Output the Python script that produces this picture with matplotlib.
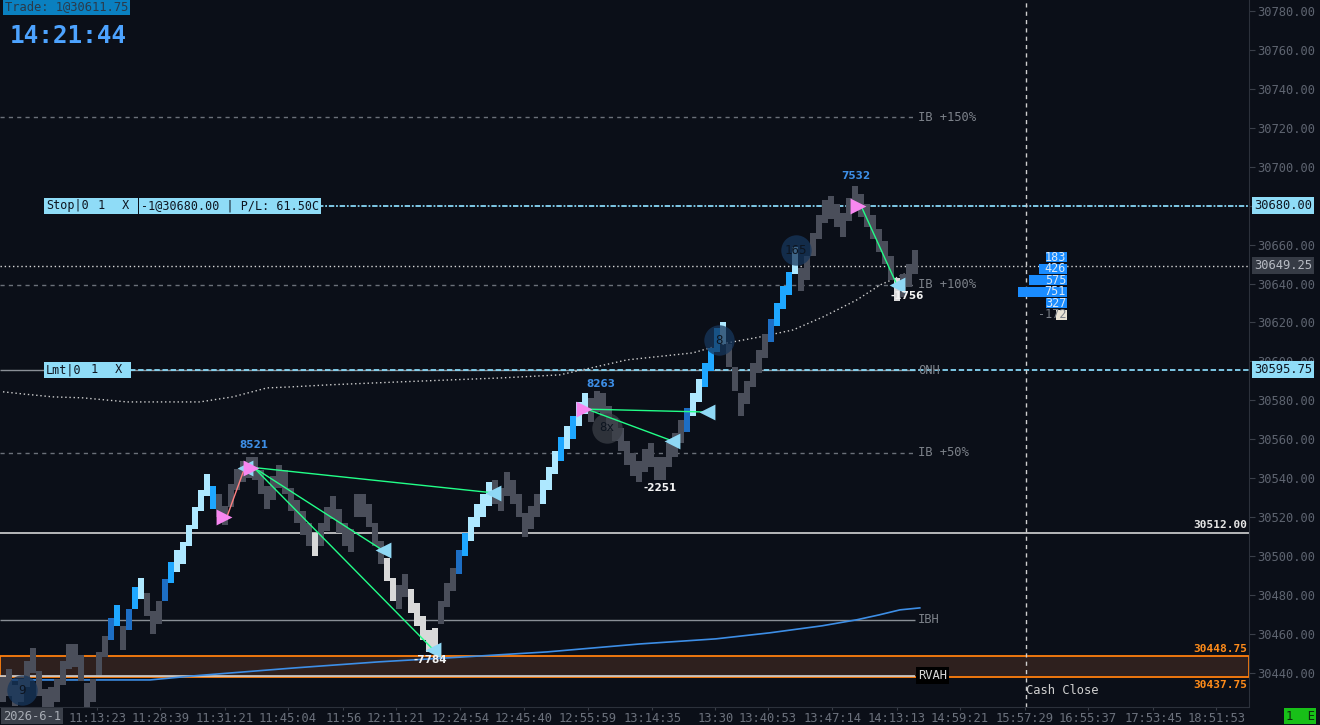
import matplotlib.pyplot as plt
from matplotlib.patches import Rectangle
import numpy as np

BG = '#0b0f18'
MONO = 'DejaVu Sans Mono'
W, H = 1320, 725

# one bar per slot (about 6 px per slot on the original chart)
bar_high = [
    30438, 30442, 30434, 30437, 30446, 30453, 30441, 30432, 30433, 30437,
    30446, 30455, 30455, 30449, 30435, 30437, 30451, 30459, 30468, 30475,
    30464, 30473, 30484, 30489, 30481, 30472, 30477, 30488, 30497, 30503,
    30507, 30516, 30525, 30534, 30542, 30536, 30532, 30526, 30537, 30545,
    30549, 30551, 30551, 30544, 30536, 30541, 30547, 30544, 30535, 30529,
    30523, 30517, 30512, 30517, 30525, 30531, 30524, 30517, 30514, 30532,
    30532, 30527, 30517, 30508, 30499, 30489, 30485, 30491, 30483, 30476,
    30469, 30462, 30463, 30477, 30486, 30494, 30503, 30512, 30520, 30527,
    30532, 30538, 30539, 30535, 30543, 30539, 30532, 30522, 30526, 30532,
    30539, 30546, 30554, 30561, 30567, 30572, 30579, 30584, 30581, 30585,
    30584, 30577, 30571, 30566, 30559, 30553, 30549, 30555, 30558, 30551,
    30551, 30558, 30563, 30570, 30576, 30584, 30591, 30599, 30607, 30617,
    30620, 30609, 30597, 30584, 30590, 30599, 30606, 30614, 30622, 30630,
    30639, 30646, 30659, 30648, 30654, 30666, 30675, 30683, 30685, 30681,
    30676, 30684, 30690, 30686, 30681, 30675, 30668, 30662, 30654, 30643,
    30645, 30650, 30657]
bar_low = [
    30425, 30428, 30423, 30425, 30433, 30440, 30428, 30421, 30421, 30425,
    30434, 30442, 30443, 30436, 30422, 30425, 30439, 30448, 30457, 30464,
    30452, 30462, 30473, 30478, 30469, 30460, 30465, 30477, 30486, 30492,
    30496, 30505, 30514, 30523, 30531, 30524, 30520, 30516, 30525, 30534,
    30538, 30540, 30539, 30532, 30524, 30529, 30535, 30532, 30523, 30517,
    30511, 30505, 30500, 30505, 30513, 30519, 30512, 30505, 30502, 30520,
    30520, 30515, 30505, 30496, 30487, 30477, 30473, 30479, 30471, 30464,
    30457, 30451, 30451, 30465, 30474, 30482, 30491, 30500, 30508, 30515,
    30520, 30526, 30527, 30523, 30531, 30527, 30520, 30510, 30514, 30520,
    30527, 30534, 30542, 30549, 30555, 30560, 30567, 30573, 30569, 30574,
    30572, 30565, 30559, 30554, 30547, 30541, 30538, 30543, 30546, 30539,
    30539, 30546, 30551, 30558, 30564, 30572, 30579, 30587, 30595, 30605,
    30609, 30597, 30585, 30572, 30578, 30587, 30594, 30602, 30610, 30618,
    30627, 30634, 30645, 30636, 30642, 30654, 30663, 30671, 30673, 30669,
    30664, 30672, 30678, 30674, 30669, 30663, 30656, 30650, 30642, 30631,
    30633, 30638, 30645]
# g = neutral, l = light blue, b = bright blue, d = dark blue, w = white
bar_color = ("gggggggggggggggg" "gg" "dbgdbl" "ggg" "dbllllllb" "g"
             "ggggggggggggggg" "w" "ggggggggggg" "ww" "gg" "wwwww" "ggg"
             "dbllll" "gggggggg" "lllblbll" "gggggggggggggggg" "dllbbbl"
             "ggggggg" "dbbbl" "gggggggggggggggg" "w" "ggg")

time_slots = [15.7, 26.2, 37.0, 47.5, 56.7, 65.5, 76.2, 86.8, 97.5, 108.2,
              118.7, 127.5, 138.2, 149.0, 159.5, 170.3, 180.8, 191.7, 202.2]
time_labels = ['11:13:23', '11:28:39', '11:31:21', '11:45:04', '11:56',
               '12:11:21', '12:24:54', '12:45:40', '12:55:59', '13:14:35',
               '13:30', '13:40:53', '13:47:14', '14:13:13', '14:59:21',
               '15:57:29', '16:55:37', '17:53:45', '18:51:53']

# dotted average curve and blue volume-weighted line
avg_slots = [0, 3.3, 8.3, 13.3, 20.7, 32.8, 38.3, 44, 47.8, 54.5, 66.2, 74.5,
             82.8, 92.8, 104, 115, 120.7, 126.2, 131.7, 136.7, 142.3, 146.2,
             150.7, 152.3]
avg_prices = [30584.4, 30583.3, 30581.8, 30581.3, 30579.2, 30579.2, 30581.8,
              30586.4, 30586.9, 30588.0, 30589.5, 30590.5, 30591.5, 30593.1,
              30600.8, 30604.4, 30609.5, 30612.6, 30616.2, 30622.9, 30631.6,
              30639.3, 30645.5, 30648.0]
vw_slots = [-0.5, 24.5, 31.8, 48.7, 62.7, 76.7, 90.7, 106.2, 118.8, 127.8,
            136.5, 142.3, 146, 149.5, 152.8]
vw_prices = [30436.4, 30436.4, 30438.5, 30442.6, 30445.7, 30448.2, 30450.8,
             30454.9, 30457.5, 30460.6, 30464.2, 30467.3, 30469.8, 30472.4,
             30473.4]

# reference levels
ib150, ib100, onh, ib50 = 30725.5, 30639.5, 30595.5, 30553.0
ibh, rvah, settle = 30467.25, 30438.5, 30512.00
zone_lo, zone_hi = 30437.75, 30448.75
last_price, stop_price, limit_price = 30649.25, 30680.00, 30595.75

# trades: entries (pink) and exits (light blue) with the entry they close
entry_slots = [36.8, 41.3, 96.8, 142.5]
entry_prices = [30520.0, 30545.5, 30575.5, 30680.0]
exit_slots = [40.3, 63.3, 71.7, 81.7, 111.5, 117.3, 149.0]
exit_prices = [30545.5, 30503.0, 30452.0, 30532.5, 30559.25, 30574.0, 30639.25]
exit_entry = [0, 1, 1, 1, 2, 2, 3]

swing_slots = [41.8, 71.3, 99.7, 109.5, 142.2, 150.7]
swing_prices = [30557.2, 30446.7, 30588.4, 30535.1, 30695.3, 30633.6]
swing_text = ['8521', '-7784', '8263', '-2251', '7532', '-1756']

bubble_slots = [132.2, 119.3, 100.7, 3.2]
bubble_prices = [30657.2, 30611.0, 30566.0, 30431.0]
bubble_text = ['165', '8', '8x', '9']

dom_prices = [30653.5, 30647.5, 30641.75, 30635.75, 30630.0]
dom_vol = [183, 426, 575, 751, 327]
dom_neg_price, dom_neg = 30624.0, '-172'


def sx(px):
    return px / 6 - 0.5


fig = plt.figure(figsize=(W / 100, H / 100), dpi=100, facecolor=BG)
ax = fig.add_axes([0, 18 / H, 1249 / W, 707 / H], facecolor=BG)
ax.set_xlim(-0.5, sx(1249))
ax.set_ylim(30422.5, 30785.65)

# range box
ax.add_patch(Rectangle((-0.5, zone_lo), sx(1249) + 0.5, zone_hi - zone_lo,
                       facecolor='#2e201e', edgecolor='#ff7f0e', lw=1.3, zorder=1))

# level lines
end = sx(915)
ax.hlines(ib150, -0.5, end, colors='#6b7079', lw=1, linestyles=(0, (3, 3)), zorder=2)
ax.hlines(ib100, -0.5, end, colors='#6b7079', lw=1, linestyles=(0, (3, 3)), zorder=2)
ax.hlines(ib50, -0.5, end, colors='#6b7079', lw=1, linestyles=(0, (3, 3)), zorder=2)
ax.hlines(onh, -0.5, end, colors='#8a8f96', lw=1, zorder=2)
ax.hlines(ibh, -0.5, end, colors='#8a8f96', lw=1, zorder=2)
ax.hlines(rvah, -0.5, end, colors='#d0d0d0', lw=1.2, zorder=2)
ax.axhline(settle, color='#e6e6e6', lw=1.1, zorder=2)
ax.axhline(last_price, color='#d8d8d8', lw=1, ls=(0, (1, 2)), zorder=2)
ax.hlines(stop_price, sx(318), sx(1249), colors='#86d6f5', lw=1.3,
          linestyles=(0, (3, 1, 1, 1)), zorder=2)
ax.hlines(limit_price, sx(130), sx(1249), colors='#86d6f5', lw=1.3,
          linestyles=(0, (3, 1.5)), zorder=2)
ax.axvline(sx(1026), color='#cfcfcf', lw=1, ls=(0, (3, 3)), zorder=2)

# average curves
ax.plot(avg_slots, avg_prices, color='#cfcfcf', lw=1, ls=(0, (1, 2)), zorder=3)
ax.plot(vw_slots, vw_prices, color='#3d8ee6', lw=1.2, zorder=3)

# price bars
cmap = {'g': '#4a4e5a', 'l': '#aee8ff', 'b': '#1ea7ff', 'd': '#1d6ec4', 'w': '#d9d9d9'}
hi = np.array(bar_high)
lo = np.array(bar_low)
ax.bar(np.arange(len(hi)), hi - lo, bottom=lo, width=1.0,
       color=[cmap[c] for c in bar_color], zorder=4)

# bubbles
for s, p, t in zip(bubble_slots, bubble_prices, bubble_text):
    fc = '#3a3e46' if t == '8x' else '#17365c'
    ax.scatter(s, p, s=480, color=fc, alpha=0.75, zorder=5, lw=0)
    ax.text(s, p, t, color='#0d1520', fontsize=9, family=MONO,
            ha='center', va='center', zorder=6)

# trade lines and markers
for s, p, e in zip(exit_slots, exit_prices, exit_entry):
    col = '#ff8080' if e == 0 else '#22ff88'
    ax.plot([entry_slots[e] + 0.5, s], [entry_prices[e], p], color=col, lw=1, zorder=6)
ax.scatter(exit_slots, exit_prices, marker='<', s=130, color='#8fd8f5', zorder=7, lw=0)
ax.scatter(entry_slots, entry_prices, marker='>', s=130, color='#f787f0', zorder=7, lw=0)

for s, p, t in zip(swing_slots, swing_prices, swing_text):
    col = '#3d8ee6' if not t.startswith('-') else '#f2f2f2'
    ax.text(s, p, t, color=col, fontsize=7.5, weight='bold', ha='center',
            va='center', zorder=8)

# order-book ladder
right = sx(1067)
widths = [max(v / 751 * 49, 21) / 6 for v in dom_vol]
ax.barh(dom_prices, [-w for w in widths], left=right, height=5.0,
        color='#1a8cff', zorder=5)
for p, v in zip(dom_prices, dom_vol):
    ax.text(right - 0.15, p, str(v), color='#dde9f5', fontsize=8.5, family=MONO,
            ha='right', va='center', zorder=6)
ax.barh([dom_neg_price], [-11 / 6], left=right, height=5.0, color='#e8e2d4', zorder=5)
ax.text(right - 0.15, dom_neg_price, dom_neg, color='#7a7f87', fontsize=8.5,
        family=MONO, ha='right', va='center', zorder=6)

# level labels
lab = dict(fontsize=8.7, family=MONO, va='center', zorder=8)
ax.text(sx(918), ib150, 'IB +150%', color='#7d828a', **lab)
ax.text(sx(918), ib100, 'IB +100%', color='#7d828a', **lab)
ax.text(sx(918), onh, 'ONH', color='#7d828a', **lab)
ax.text(sx(918), ib50, 'IB +50%', color='#7d828a', **lab)
ax.text(sx(918), ibh, 'IBH', color='#7d828a', **lab)
ax.text(sx(918), rvah, 'RVAH', color='#d8d8d8',
        bbox=dict(facecolor='#000000', edgecolor='none', pad=1.5), **lab)
ax.text(sx(1247), settle + 1.2, f'{settle:.2f}', color='#e6e6e6', ha='right',
        fontsize=8, family=MONO, va='bottom', weight='bold', zorder=8)
ax.text(sx(1247), zone_hi + 1.2, f'{zone_hi:.2f}', color='#ff8c1a', ha='right',
        fontsize=8, family=MONO, va='bottom', weight='bold', zorder=8)
ax.text(sx(1247), zone_lo - 1.2, f'{zone_lo:.2f}', color='#ff8c1a', ha='right',
        fontsize=8, family=MONO, va='top', weight='bold', zorder=8)
ax.text(sx(1026), 30431.0, 'Cash Close', color='#cfcfcf', fontsize=8.7,
        family=MONO, va='center', zorder=8)

# order tags
tag = dict(fontsize=8.5, family=MONO, va='center', color='#0e1520', zorder=9)
box = dict(facecolor='#8fdcf7', edgecolor='none', pad=1.2)
ax.text(sx(46), stop_price, 'Stop|0', bbox=box, **tag)
ax.text(sx(101.5), stop_price, ' 1 ', bbox=box, ha='center', **tag)
ax.text(sx(125.5), stop_price, ' X ', bbox=box, ha='center', **tag)
ax.text(sx(141), stop_price, '-1@30680.00 | P/L: 61.50C', bbox=box, **tag)
ax.text(sx(46), limit_price, 'Lmt|0', bbox=box, **tag)
ax.text(sx(94.5), limit_price, ' 1 ', bbox=box, ha='center', **tag)
ax.text(sx(118.5), limit_price, ' X ', bbox=box, ha='center', **tag)

# axes styling
for side in ['top', 'left']:
    ax.spines[side].set_visible(False)
ax.spines['right'].set_color('#2c313b')
ax.spines['bottom'].set_color('#2c313b')
ax.yaxis.tick_right()
yt = np.arange(30440, 30781, 20)
ax.set_yticks(yt)
# the 30680 level is covered by the stop price tag on the reference
ax.set_yticklabels(['' if v == 30680 else f'{v:.2f}' for v in yt], family=MONO)
ax.tick_params(axis='y', colors='#3a3f49', labelcolor='#5e6470', labelsize=8.7,
               length=4, pad=2)
ax.set_xticks(time_slots)
ax.set_xticklabels(time_labels, family=MONO)
ax.tick_params(axis='x', colors='#3a3f49', labelcolor='#6b717c', labelsize=8.7,
               length=2, pad=1.5)

yax = ax.get_yaxis_transform()
ax.text(1.004, stop_price, f'{stop_price:.2f}', transform=yax, fontsize=8.7,
        family=MONO, va='center', color='#0e1520', zorder=9,
        bbox=dict(facecolor='#8fdcf7', edgecolor='none', pad=1.5))
ax.text(1.004, last_price, f'{last_price:.2f}', transform=yax, fontsize=8.7,
        family=MONO, va='center', color='#b8bcc4', zorder=9,
        bbox=dict(facecolor='#363b45', edgecolor='none', pad=1.5))
ax.text(1.004, limit_price, f'{limit_price:.2f}', transform=yax, fontsize=8.7,
        family=MONO, va='center', color='#0e1520', zorder=9,
        bbox=dict(facecolor='#8fdcf7', edgecolor='none', pad=1.5))

# header
fig.text(5 / W, 1 - 7 / H, 'Trade: 1@30611.75', fontsize=8.7, family=MONO,
         color='#2b3a4a', va='center',
         bbox=dict(facecolor='#0a80c0', edgecolor='none', pad=1.2))
fig.text(10 / W, 1 - 36 / H, '14:21:44', fontsize=17.5, family=MONO,
         weight='bold', color='#4da3ff', va='center')
fig.text(3 / W, 1 - 716 / H, '2026-6-1', fontsize=8.7, family=MONO,
         color='#a8adb5', va='center',
         bbox=dict(facecolor='#3b404a', edgecolor='none', pad=1.2))
fig.text(1300 / W, 1 - 716 / H, '1  E', fontsize=8.7, family=MONO,
         color='#0d2a0d', va='center', ha='center',
         bbox=dict(facecolor='#18c018', edgecolor='none', pad=1.2))

fig.savefig('out.png', dpi=100, facecolor=BG)
